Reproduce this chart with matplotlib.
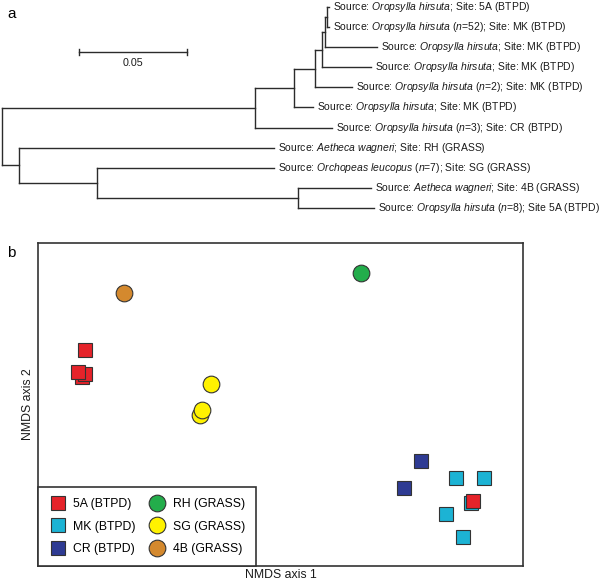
import matplotlib
matplotlib.use('Agg')
import matplotlib.pyplot as plt

plt.rcParams['font.family'] = ['Liberation Sans', 'DejaVu Sans']
plt.rcParams['mathtext.fontset'] = 'custom'
plt.rcParams['mathtext.rm'] = 'Liberation Sans'
plt.rcParams['mathtext.it'] = 'Liberation Sans:italic'

# tree: (parent, child, branch length)
edges = [
    ('R', 'N6', 0.117), ('R', 'N9', 0.008),
    ('N6', 'N5', 0.018), ('N6', 'L6', 0.036),
    ('N5', 'N4', 0.010), ('N5', 'L5', 0.009),
    ('N4', 'N3', 0.003), ('N4', 'L4', 0.017),
    ('N3', 'N2', 0.0014), ('N3', 'L3', 0.023),
    ('N2', 'N1', 0.001), ('N2', 'L2', 0.024),
    ('N1', 'L0', 0.001), ('N1', 'L1', 0.001),
    ('N9', 'L7', 0.118), ('N9', 'N8', 0.036),
    ('N8', 'L8', 0.082), ('N8', 'N7', 0.093),
    ('N7', 'L9', 0.034), ('N7', 'L10', 0.035),
]

OH = r'$\mathit{Oropsylla\ hirsuta}$'
AW = r'$\mathit{Aetheca\ wagneri}$'
OL = r'$\mathit{Orchopeas\ leucopus}$'
NN = r'$\mathit{n}$'
leaf_labels = [
    'Source: ' + OH + '; Site: 5A (BTPD)',
    'Source: ' + OH + ' (' + NN + '=52); Site: MK (BTPD)',
    'Source: ' + OH + '; Site: MK (BTPD)',
    'Source: ' + OH + '; Site: MK (BTPD)',
    'Source: ' + OH + ' (' + NN + '=2); Site: MK (BTPD)',
    'Source: ' + OH + '; Site: MK (BTPD)',
    'Source: ' + OH + ' (' + NN + '=3); Site: CR (BTPD)',
    'Source: ' + AW + '; Site: RH (GRASS)',
    'Source: ' + OL + ' (' + NN + '=7); Site: SG (GRASS)',
    'Source: ' + AW + '; Site: 4B (GRASS)',
    'Source: ' + OH + ' (' + NN + '=8); Site 5A (BTPD)',
]
scale_length = 0.05

# NMDS scores
sites = ['5A (BTPD)', 'MK (BTPD)', 'CR (BTPD)', 'RH (GRASS)', 'SG (GRASS)', '4B (GRASS)']
x_5a = [-0.984, -0.967, -1.003, -0.967, 0.954]
y_5a = [0.138, 0.151, 0.162, 0.270, -0.476]
x_mk = [0.868, 1.007, 0.943, 0.817, 0.905]
y_mk = [-0.363, -0.363, -0.489, -0.541, -0.658]
x_cr = [0.695, 0.613]
y_cr = [-0.280, -0.414]
x_rh = [0.398]
y_rh = [0.651]
x_sg = [-0.398, -0.390, -0.345]
y_sg = [-0.052, -0.027, 0.102]
x_4b = [-0.773]
y_4b = [0.554]

LINE = '#2b2b2b'
EDGE = '#333333'


def tree_layout():
    children = {}
    for p, c, l in edges:
        children.setdefault(p, []).append((c, l))
    xs = {'R': 0.0}
    ys = {}

    def walk(node):
        for c, l in children.get(node, []):
            xs[c] = xs[node] + l
            walk(c)
        if node.startswith('L'):
            ys[node] = int(node[1:])
        else:
            cy = [ys[c] for c, l in children[node]]
            ys[node] = (min(cy) + max(cy)) / 2.0
    walk('R')
    return children, xs, ys


def draw_tree(ax):
    children, xs, ys = tree_layout()
    for node, kids in children.items():
        cy = [ys[c] for c, l in kids]
        ax.plot([xs[node], xs[node]], [min(cy), max(cy)], color=LINE, lw=1.0,
                solid_capstyle='projecting')
        for c, l in kids:
            ax.plot([xs[node], xs[c]], [ys[c], ys[c]], color=LINE, lw=1.0,
                    solid_capstyle='projecting')
    k = 0.05 / 108
    for i, lab in enumerate(leaf_labels):
        leaf = 'L%d' % i
        ax.text(xs[leaf] + 4 * k, ys[leaf], lab, fontsize=7.5, va='center',
                ha='left', color='#1a1a1a')
    # scale bar
    x0 = 77 * k
    yb = 2.24
    ax.plot([x0, x0 + scale_length], [yb, yb], color=LINE, lw=1.0)
    for xe in (x0, x0 + scale_length):
        ax.plot([xe, xe], [yb - 0.13, yb + 0.13], color=LINE, lw=1.0)
    ax.text(x0 + scale_length / 2, yb + 0.55, '%.2f' % scale_length,
            fontsize=7.7, ha='center', va='center', color='#1a1a1a')
    ax.set_xlim(-2 * k, 598 * k)
    ax.set_ylim((230 - 7) / 20.1, -7 / 20.1)
    ax.axis('off')


def draw_nmds(ax):
    kw = dict(linestyle='none', mec=EDGE, mew=0.8)
    sq = dict(marker='s', markersize=10.5, **kw)
    ci = dict(marker='o', markersize=12, **kw)
    h_cr, = ax.plot(x_cr, y_cr, mfc='#2e3b93', zorder=2, **sq)
    h_mk, = ax.plot(x_mk, y_mk, mfc='#1cb3d4', zorder=2, **sq)
    h_5a, = ax.plot(x_5a, y_5a, mfc='#e5232a', zorder=3, **sq)
    h_rh, = ax.plot(x_rh, y_rh, mfc='#23ad4b', zorder=3, **ci)
    h_sg, = ax.plot(x_sg, y_sg, mfc='#fff200', zorder=3, **ci)
    h_4b, = ax.plot(x_4b, y_4b, mfc='#d4892e', zorder=3, **ci)
    ax.set_xlim(-1.2, 1.2)
    ax.set_ylim(-0.8, 0.8)
    ax.set_xticks([])
    ax.set_yticks([])
    for s in ax.spines.values():
        s.set_linewidth(1.2)
        s.set_color(EDGE)
    ax.set_xlabel('NMDS axis 1', fontsize=8.8, labelpad=2, color='#1a1a1a')
    ax.set_ylabel('NMDS axis 2', fontsize=8.8, labelpad=3, color='#1a1a1a')
    leg = ax.legend([h_5a, h_mk, h_cr, h_rh, h_sg, h_4b], sites, ncol=2,
                    loc='lower left', bbox_to_anchor=(0, 0), borderaxespad=0,
                    fontsize=8.8, fancybox=False, framealpha=1, edgecolor=EDGE,
                    borderpad=0.9, handlelength=1.4, handletextpad=0.55,
                    columnspacing=1.1, labelspacing=0.85)
    leg.get_frame().set_linewidth(1.2)


fig = plt.figure(figsize=(6, 5.8), dpi=100)
ax_tree = fig.add_axes([0, 350 / 580, 1, 230 / 580])
draw_tree(ax_tree)
ax_nmds = fig.add_axes([38 / 600, 14 / 580, 485 / 600, 323 / 580])
draw_nmds(ax_nmds)
fig.text(7 / 600, 1 - 14 / 580, 'a', fontsize=11, ha='left', va='center')
fig.text(7 / 600, 1 - 253 / 580, 'b', fontsize=11, ha='left', va='center')
fig.savefig('out.png', dpi=100)
